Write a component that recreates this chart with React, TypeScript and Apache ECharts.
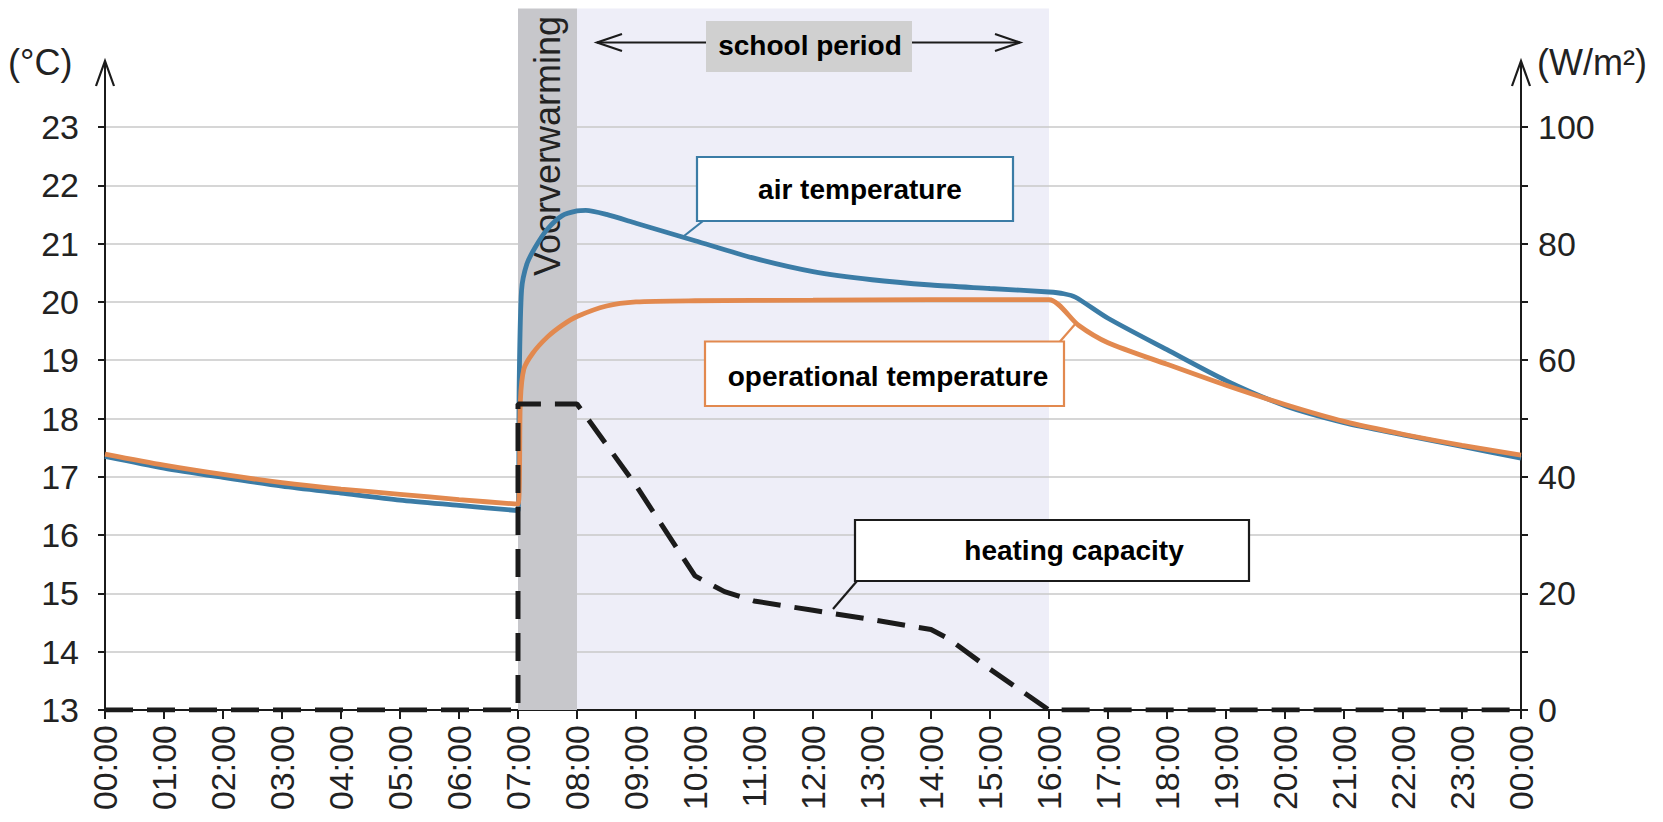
import React, { useEffect, useRef } from "react";
import * as echarts from "echarts";

// ---- data ----
const xTickLabels = [
  "00:00", "01:00", "02:00", "03:00", "04:00", "05:00", "06:00", "07:00", "08:00",
  "09:00", "10:00", "11:00", "12:00", "13:00", "14:00", "15:00", "16:00", "17:00",
  "18:00", "19:00", "20:00", "21:00", "22:00", "23:00", "00:00",
];

const airTime = [0, 1, 2, 3, 4, 5, 6, 7, 7.02, 7.06, 7.15, 7.3, 7.5, 7.75, 8, 8.15, 8.5, 9, 10, 11, 12, 13, 14, 15, 16, 16.25, 16.45, 17, 18, 19, 20, 21, 22, 23, 24];
const airTemp = [17.35, 17.15, 16.99, 16.84, 16.72, 16.6, 16.51, 16.42, 18.6, 20.2, 20.65, 20.95, 21.25, 21.48, 21.56, 21.57, 21.5, 21.35, 21.05, 20.75, 20.52, 20.38, 20.29, 20.23, 20.17, 20.14, 20.08, 19.72, 19.18, 18.65, 18.22, 17.93, 17.72, 17.52, 17.32];

const opTime = [0, 1, 2, 3, 4, 5, 6, 7, 7.04, 7.1, 7.25, 7.5, 7.75, 8, 8.5, 9, 10, 12, 14, 16, 16.5, 17, 18, 19, 20, 21, 22, 23, 24];
const opTemp = [17.39, 17.2, 17.04, 16.9, 16.79, 16.7, 16.61, 16.53, 18.3, 18.85, 19.12, 19.4, 19.6, 19.75, 19.93, 20.0, 20.02, 20.03, 20.04, 20.04, 19.6, 19.3, 18.93, 18.57, 18.24, 17.95, 17.73, 17.54, 17.37];

const heatTime = [0, 7, 7, 8, 9, 10, 10.5, 11, 12, 13, 14, 14.3, 15, 16, 24];
const heatValue = [0, 0, 52.5, 52.5, 38.5, 23, 20.3, 18.7, 17.1, 15.5, 13.8, 12.2, 7, 0, 0];

const leftTicks = { min: 13, max: 23, step: 1 };
const rightTicks = { min: 0, max: 100, step: 10, labelStep: 20 };

const FONT = "'Liberation Sans', Arial, sans-serif";
const BLUE = "#3b7ca6";
const ORANGE = "#e2894f";
const INK = "#1b1b1b";

export default function App() {
  const ref = useRef<HTMLDivElement>(null);
  useEffect(() => {
    const chart = echarts.init(ref.current!, null, { renderer: "svg" });
    const axisLine = { show: true, onZero: false, lineStyle: { color: INK, width: 2 } };
    const option: any = {
      animation: false,
      backgroundColor: "#ffffff",
      textStyle: { fontFamily: FONT },
      grid: { left: 105, right: 142, top: 127, bottom: 112, containLabel: false },
      xAxis: {
        type: "value",
        min: 0,
        max: 24,
        interval: 1,
        axisLine,
        axisTick: { show: true, length: 9, lineStyle: { color: INK, width: 2 } },
        axisLabel: {
          rotate: 90,
          margin: 15,
          fontSize: 34,
          color: "#222",
          fontFamily: FONT,
          showMinLabel: true,
          showMaxLabel: true,
          formatter: (v: number) => xTickLabels[Math.round(v)],
        },
        splitLine: { show: false },
      },
      yAxis: [
        {
          type: "value",
          position: "left",
          min: leftTicks.min,
          max: leftTicks.max,
          interval: leftTicks.step,
          axisLine,
          axisTick: { show: true, length: 7, lineStyle: { color: INK, width: 2 } },
          axisLabel: { fontSize: 34, margin: 26, color: "#222", fontFamily: FONT },
          splitLine: { show: true, lineStyle: { color: "#c8c8c8", width: 1.5 } },
        },
        {
          type: "value",
          position: "right",
          min: rightTicks.min,
          max: rightTicks.max,
          interval: rightTicks.step,
          axisLine,
          axisTick: { show: true, length: 7, lineStyle: { color: INK, width: 2 } },
          axisLabel: {
            fontSize: 34,
            margin: 17,
            color: "#222",
            fontFamily: FONT,
            formatter: (v: number) => (v % rightTicks.labelStep === 0 ? String(v) : ""),
          },
          splitLine: { show: false },
        },
      ],
      series: [
        {
          type: "line",
          name: "air temperature",
          yAxisIndex: 0,
          data: airTime.map((t, i) => [t, airTemp[i]]),
          symbol: "none",
          smooth: 0.25,
          lineStyle: { color: BLUE, width: 4.8 },
          z: 3,
        },
        {
          type: "line",
          name: "operational temperature",
          yAxisIndex: 0,
          data: opTime.map((t, i) => [t, opTemp[i]]),
          symbol: "none",
          smooth: 0.25,
          lineStyle: { color: ORANGE, width: 4.8 },
          z: 4,
        },
        {
          type: "line",
          name: "heating capacity",
          yAxisIndex: 1,
          data: heatTime.map((t, i) => [t, heatValue[i]]),
          symbol: "none",
          smooth: false,
          lineStyle: { color: INK, width: 5, type: [28, 14] },
          z: 5,
        },
      ],
    };
    chart.setOption(option);

    const gx = (x: number) => chart.convertToPixel({ xAxisIndex: 0 }, x) as number;
    const gy = (y: number) => chart.convertToPixel({ yAxisIndex: 0 }, y) as number;
    const hy = (v: number) => chart.convertToPixel({ yAxisIndex: 1 }, v) as number;

    const x7 = gx(7), x8 = gx(8), x16 = gx(16);
    const xL = gx(0), xR = gx(24);
    const yBot = gy(13), yTop = gy(23);
    const yTopR = hy(100);
    const bandTop = 8.5;
    const tipY = 61;

    const box = (x: number, y: number, w: number, h: number, stroke: string) => ({
      type: "rect",
      z: 20,
      shape: { x, y, width: w, height: h },
      style: { fill: "#ffffff", stroke, lineWidth: 2.2 },
    });
    const label = (text: string, x: number, y: number, size = 28) => ({
      type: "text",
      z: 21,
      x,
      y,
      style: {
        text,
        fill: "#000",
        fontSize: size,
        fontWeight: "bold",
        fontFamily: FONT,
        align: "center",
        verticalAlign: "middle",
      },
    });
    const seg = (x1: number, y1: number, x2: number, y2: number, stroke: string, w = 2, z = 20) => ({
      type: "line",
      z,
      shape: { x1, y1, x2, y2 },
      style: { stroke, lineWidth: w },
    });
    const chevron = (pts: number[][], z = 20) => ({
      type: "polyline",
      z,
      shape: { points: pts },
      style: { stroke: INK, lineWidth: 2.2, fill: null },
    });

    chart.setOption({
      graphic: {
        elements: [
          // background bands
          { type: "rect", z: -1, shape: { x: x8, y: bandTop, width: x16 - x8, height: yBot - bandTop }, style: { fill: "#eeeef8" } },
          { type: "rect", z: 1, shape: { x: x7, y: bandTop, width: x8 - x7, height: yBot - bandTop }, style: { fill: "#c7c7cb" } },
          {
            type: "text",
            z: 1,
            x: (x7 + x8) / 2,
            y: 146,
            rotation: Math.PI / 2,
            style: { text: "Voorverwarming", fill: "#222", fontSize: 36, fontFamily: FONT, align: "center", verticalAlign: "middle" },
          },
          // axis extensions with arrows
          seg(xL, yTop, xL, tipY, INK, 2, 6),
          chevron([[xL - 9, tipY + 25], [xL, tipY], [xL + 9, tipY + 25]], 6),
          seg(xR, yTopR, xR, tipY, INK, 2, 6),
          chevron([[xR - 9, tipY + 25], [xR, tipY], [xR + 9, tipY + 25]], 6),
          // units
          { type: "text", z: 6, x: 8, y: 62, style: { text: "(°C)", fill: "#222", fontSize: 36, fontFamily: FONT, align: "left", verticalAlign: "middle" } },
          { type: "text", z: 6, x: 1537, y: 62, style: { text: "(W/m²)", fill: "#222", fontSize: 36, fontFamily: FONT, align: "left", verticalAlign: "middle" } },
          // school period
          seg(597, 42.5, 1020, 42.5, INK, 2.2, 19),
          chevron([[622, 34], [597, 42.5], [622, 51]], 19),
          chevron([[995, 34], [1020, 42.5], [995, 51]], 19),
          { type: "rect", z: 20, shape: { x: 706, y: 21, width: 206, height: 51 }, style: { fill: "#d0d0d0" } },
          label("school period", 810, 45),
          // air temperature callout
          seg(703, 221, 684, 236, BLUE, 2.2),
          box(697, 157, 316, 64, BLUE),
          label("air temperature", 860, 189),
          // operational temperature callout
          seg(1060, 341.5, 1077, 322, ORANGE, 2.2),
          box(705, 341.5, 359, 64.5, ORANGE),
          label("operational temperature", 888, 376),
          // heating capacity callout
          seg(857, 581, 833, 609, INK, 2.2),
          box(855, 520, 394, 61, INK),
          label("heating capacity", 1074, 550),
        ],
      },
    });

    return () => chart.dispose();
  }, []);
  return <div ref={ref} style={{ position: "fixed", left: 0, top: 0, width: 1663, height: 822 }} />;
}
